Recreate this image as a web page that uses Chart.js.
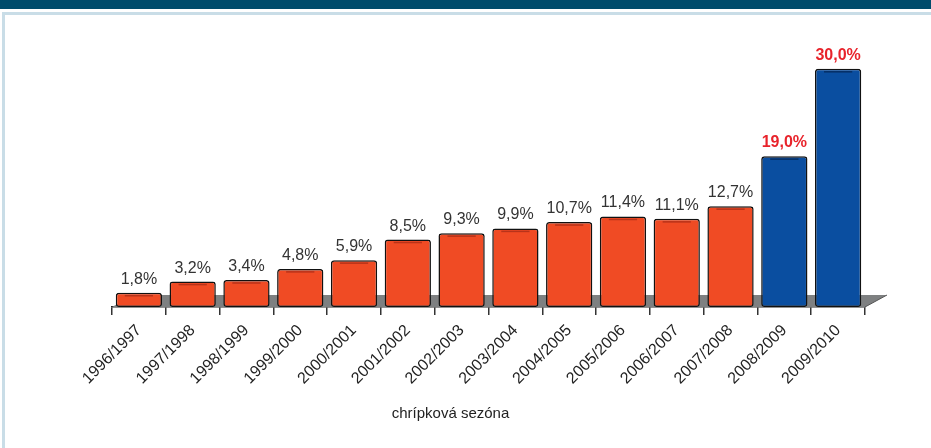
<!DOCTYPE html>
<html>
<head>
<meta charset="utf-8">
<script src="https://cdn.jsdelivr.net/npm/chart.js@4"></script>
<style>
  body { margin: 0; background: #fff; }
  #wrap { position: relative; width: 931px; height: 448px; overflow: hidden; }
  #header { position: absolute; left: 0; top: 0; width: 931px; height: 9px; background: #004c6c; }
  #panel { position: absolute; left: 2px; top: 12px; width: 960px; height: 480px;
           border-left: 3px solid #c9dde7; border-top: 3px solid #c9dde7; }
  canvas { position: absolute; left: 0; top: 0; }
</style>
</head>
<body>
<div id="wrap">
  <div id="header"></div>
  <div id="panel"></div>
  <canvas id="chart" width="931" height="448"></canvas>
</div>
<script>
const seasons = ['1996/1997', '1997/1998', '1998/1999', '1999/2000', '2000/2001', '2001/2002', '2002/2003',
  '2003/2004', '2004/2005', '2005/2006', '2006/2007', '2007/2008', '2008/2009', '2009/2010'];
const rates = [1.8, 3.2, 3.4, 4.8, 5.9, 8.5, 9.3, 9.9, 10.7, 11.4, 11.1, 12.7, 19.0, 30.0];
const highlightSeasons = ['2008/2009', '2009/2010'];
const axisTitle = 'chrípková sezóna';

const FONT = '"Liberation Sans", Arial, sans-serif';
const ORANGE = '#f04b24', ORANGE_DARK = '#b8331a';
const BLUE = '#0a4ea0', BLUE_DARK = '#062f66';
const isHi = i => highlightSeasons.includes(seasons[i]);
const fmt = v => v.toFixed(1).replace('.', ',') + '%';

// grey 3D floor under the bars
const floorPlugin = {
  id: 'floor',
  beforeDatasetsDraw(chart) {
    const { ctx, chartArea: a } = chart;
    const depth = 12, skew = 22;
    ctx.save();
    ctx.fillStyle = '#7e8081';
    ctx.beginPath();
    ctx.moveTo(a.left, a.bottom);
    ctx.lineTo(a.left + skew, a.bottom - depth);
    ctx.lineTo(a.right + skew, a.bottom - depth);
    ctx.lineTo(a.right, a.bottom);
    ctx.closePath();
    ctx.fill();
    ctx.strokeStyle = '#555';
    ctx.lineWidth = 1;
    ctx.beginPath();
    ctx.moveTo(a.right, a.bottom);
    ctx.lineTo(a.right + skew, a.bottom - depth);
    ctx.stroke();
    ctx.restore();
  }
};

// cylinder lid, value labels and the axis caption
const barDecor = {
  id: 'barDecor',
  afterDatasetsDraw(chart) {
    const { ctx, chartArea: a } = chart;
    const meta = chart.getDatasetMeta(0);
    ctx.save();
    meta.data.forEach((bar, i) => {
      const half = bar.width / 2;
      ctx.strokeStyle = isHi(i) ? BLUE_DARK : ORANGE_DARK;
      ctx.lineWidth = 1.5;
      ctx.beginPath();
      ctx.moveTo(bar.x - half + 9, bar.y + 3);
      ctx.lineTo(bar.x + half - 9, bar.y + 3);
      ctx.stroke();

      ctx.textAlign = 'center';
      ctx.textBaseline = 'alphabetic';
      if (isHi(i)) {
        ctx.fillStyle = '#e8232b';
        ctx.font = 'bold 16px ' + FONT;
      } else {
        ctx.fillStyle = '#333';
        ctx.font = '16px ' + FONT;
      }
      ctx.fillText(fmt(rates[i]), bar.x, bar.y - 9);
    });

    ctx.fillStyle = '#222';
    ctx.font = '15px ' + FONT;
    ctx.textAlign = 'center';
    ctx.textBaseline = 'middle';
    ctx.fillText(axisTitle, (a.left + a.right) / 2 - 38, 414);
    ctx.restore();
  }
};

new Chart(document.getElementById('chart'), {
  type: 'bar',
  data: {
    labels: seasons,
    datasets: [{
      data: rates,
      backgroundColor: rates.map((v, i) => isHi(i) ? BLUE : ORANGE),
      borderColor: '#111',
      borderWidth: 1.5,
      borderRadius: 3,
      borderSkipped: false,
      barPercentage: 0.86,
      categoryPercentage: 1
    }]
  },
  options: {
    responsive: false,
    animation: false,
    layout: { padding: { left: 112, right: 66, top: 45, bottom: 0 } },
    plugins: { legend: { display: false }, tooltip: { enabled: false } },
    scales: {
      x: {
        grid: { display: true, drawOnChartArea: false, tickLength: 8, color: '#333', lineWidth: 1.5 },
        border: { color: '#222', width: 1.5 },
        ticks: {
          minRotation: 45, maxRotation: 45, padding: 6, color: '#222',
          font: { family: FONT, size: 16 }
        },
        afterFit(scale) { scale.height = 141; }
      },
      y: { display: false, min: 0, max: 33 }
    }
  },
  plugins: [floorPlugin, barDecor]
});
</script>
</body>
</html>
